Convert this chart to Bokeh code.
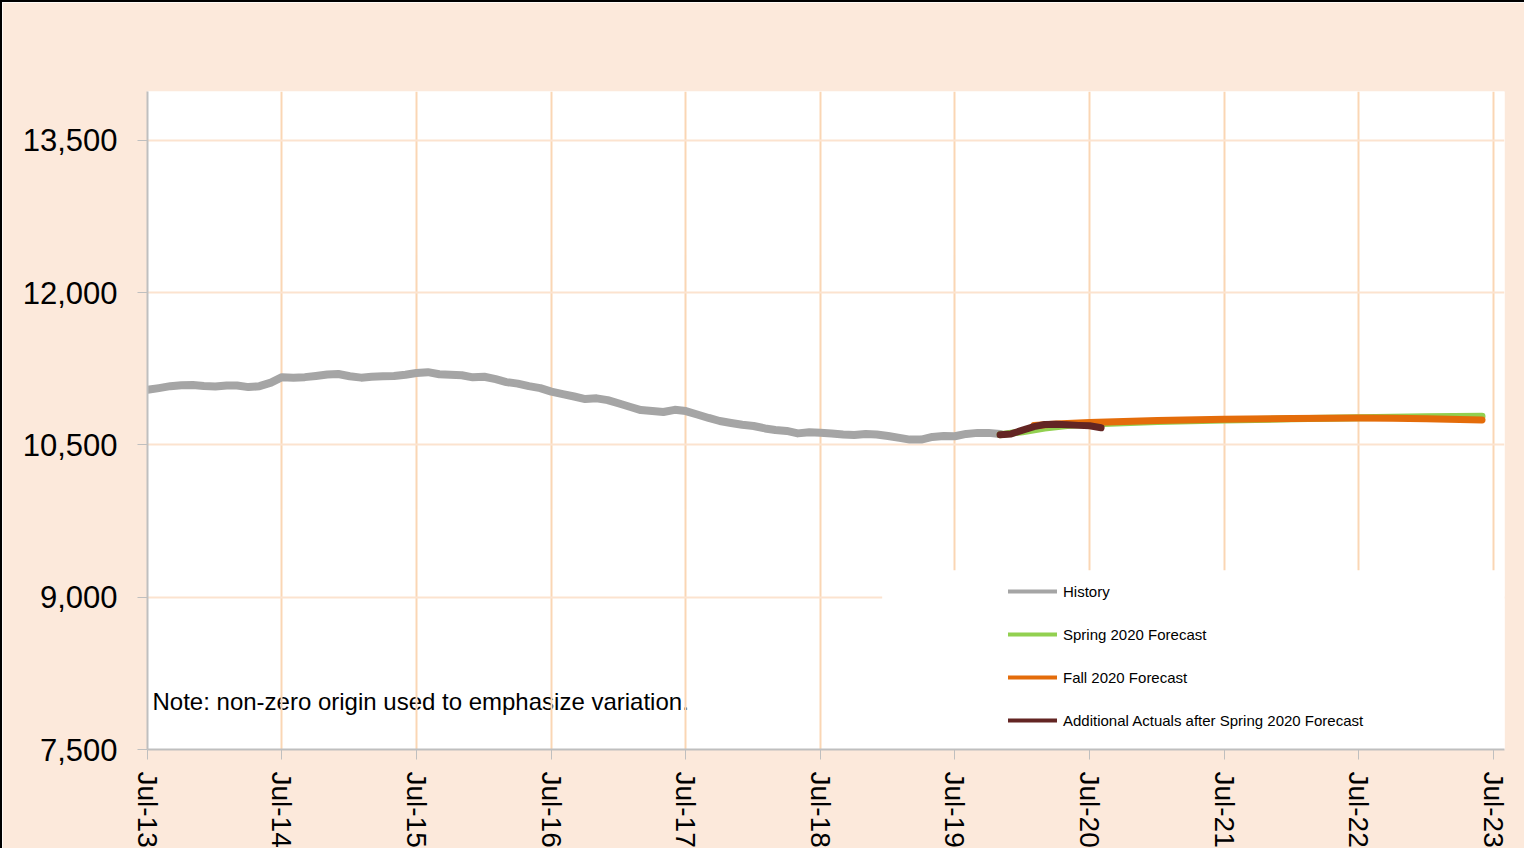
from datetime import datetime
import pandas as pd
from bokeh.plotting import figure
from bokeh.models import (Range1d, FixedTicker, NumeralTickFormatter, DatetimeTickFormatter,
                          Legend, LegendItem, Label, BoxAnnotation)
from bokeh.embed import file_html
from bokeh.resources import INLINE

# ---------------- data ----------------
history_start = "2013-07-01"
history = [11042, 11059, 11078, 11088, 11090, 11080, 11075, 11085, 11085, 11069, 11078, 11113,
           11167, 11162, 11167, 11179, 11193, 11198, 11176, 11162, 11171, 11176, 11178, 11191,
           11208, 11216, 11196, 11191, 11186, 11165, 11171, 11147, 11118, 11103, 11078, 11059,
           11025, 11000, 10976, 10951, 10958, 10941, 10907, 10873, 10843, 10833, 10824, 10845,
           10833, 10799, 10765, 10735, 10716, 10698, 10686, 10662, 10647, 10637, 10613, 10625,
           10620, 10613, 10603, 10598, 10608, 10603, 10588, 10569, 10552, 10552, 10578, 10588,
           10585, 10608, 10618, 10618, 10608]

spring_dates = ["2019-11-01", "2020-01-01", "2020-03-01", "2020-05-01", "2020-07-01", "2020-10-01",
                "2021-01-01", "2021-07-01", "2022-01-01", "2022-07-01", "2023-01-01", "2023-06-01"]
spring_vals = [10600, 10630, 10665, 10690, 10705, 10718, 10730, 10745, 10757, 10767, 10776, 10782]

fall_dates = ["2020-02-01", "2020-04-01", "2020-07-01", "2020-10-01", "2021-01-01", "2021-07-01",
              "2022-01-01", "2022-07-01", "2022-10-01", "2023-01-01", "2023-06-01"]
fall_vals = [10690, 10706, 10720, 10730, 10740, 10752, 10760, 10764, 10763, 10758, 10746]

actual_dates = ["2019-11-01", "2019-12-01", "2020-01-01", "2020-02-01", "2020-03-01",
                "2020-04-01", "2020-05-01", "2020-06-01", "2020-07-01", "2020-08-01"]
actual_vals = [10600, 10608, 10645, 10680, 10700, 10704, 10697, 10692, 10688, 10668]

tick_dates = ["2013-07-01", "2014-07-01", "2015-07-01", "2016-07-01", "2017-07-01", "2018-07-01",
              "2019-07-01", "2020-07-01", "2021-07-01", "2022-07-01", "2023-07-01"]
y_ticks = [7500, 9000, 10500, 12000, 13500]

series_names = ["History", "Spring 2020 Forecast", "Fall 2020 Forecast",
                "Additional Actuals after Spring 2020 Forecast"]
series_colors = ["#A5A5A5", "#92D050", "#E46C0A", "#632523"]
note_text = "Note: non-zero origin used to emphasize variation."

# ---------------- figure ----------------
FONT = "Liberation Sans"
BG = "#FCE9DB"
GRID_V = "#FAD6B4"
GRID_H = "#FCE3CF"

hist_dates = pd.date_range(history_start, periods=len(history), freq="MS")
to_dt = lambda lst: pd.to_datetime(lst)

p = figure(width=1524, height=848, x_axis_type="datetime", output_backend="svg",
           toolbar_location=None,
           x_range=Range1d(datetime(2013, 7, 1), datetime(2023, 8, 1)),
           y_range=Range1d(7500, 13980),
           min_border_left=145, min_border_top=89, min_border_right=22, min_border_bottom=90)
p.styles = {"border-left": "2px solid black", "border-top": "2px solid black"}

p.background_fill_color = "white"
p.border_fill_color = BG
p.outline_line_color = None

# axes
p.xaxis.ticker = FixedTicker(ticks=[pd.Timestamp(d).value / 1e6 for d in tick_dates])
p.xaxis.formatter = DatetimeTickFormatter(years="%b-%y", months="%b-%y", days="%b-%y")
p.xaxis.major_label_orientation = "vertical"
p.xaxis.major_label_text_font = FONT
p.xaxis.major_label_text_font_size = "28px"
p.xaxis.major_label_text_color = "black"
p.xaxis.major_label_standoff = 12
p.yaxis.ticker = FixedTicker(ticks=y_ticks)
p.yaxis.formatter = NumeralTickFormatter(format="0,0")
p.yaxis.major_label_text_font = FONT
p.yaxis.major_label_text_font_size = "31px"
p.yaxis.major_label_text_color = "black"
p.yaxis.major_label_standoff = 20
for ax in (p.xaxis, p.yaxis):
    ax.axis_line_color = "#BFBFBF"
    ax.axis_line_width = 2
    ax.major_tick_line_color = "#BFBFBF"
    ax.major_tick_out = 10
    ax.major_tick_in = 0
    ax.minor_tick_line_color = None

p.xgrid.grid_line_color = GRID_V
p.xgrid.grid_line_width = 2
p.ygrid.grid_line_color = GRID_H
p.ygrid.grid_line_width = 2

# note text (drawn under the grid, as in the reference)
p.add_layout(Label(x=5, y=35, x_units="screen", y_units="screen", text=note_text,
                   text_font=FONT, text_font_size="24px", text_color="black", level="image"))

# white legend panel, above grid but below lines and axes
p.add_layout(BoxAnnotation(left=datetime(2018, 12, 16), right=datetime(2023, 8, 1),
                           bottom=7500, top=9265, fill_color="white", fill_alpha=1,
                           line_alpha=0, level="underlay"))

x_sets = [hist_dates, to_dt(spring_dates), to_dt(fall_dates), to_dt(actual_dates)]
y_sets = [history, spring_vals, fall_vals, actual_vals]

# thinner copies (hidden beneath the main lines) used for the legend glyphs
proxies = [p.line(xs, ys, line_color=c, line_width=4, line_cap="round")
           for xs, ys, c in zip(x_sets, y_sets, series_colors)]

# main lines
widths = [8, 7, 7, 7]
for xs, ys, c, w in zip(x_sets, y_sets, series_colors, widths):
    p.line(xs, ys, line_color=c, line_width=w, line_cap="round", line_join="round")

legend = Legend(items=[LegendItem(label=n, renderers=[r]) for n, r in zip(series_names, proxies)],
                location=(861, 19), padding=0, margin=0, spacing=23,
                glyph_width=49, glyph_height=20, label_height=20, label_standoff=6,
                label_text_font=FONT, label_text_font_size="15px", label_text_color="black",
                background_fill_alpha=0, border_line_alpha=0)
p.add_layout(legend)

open("out.html", "w").write(file_html(p, INLINE))
